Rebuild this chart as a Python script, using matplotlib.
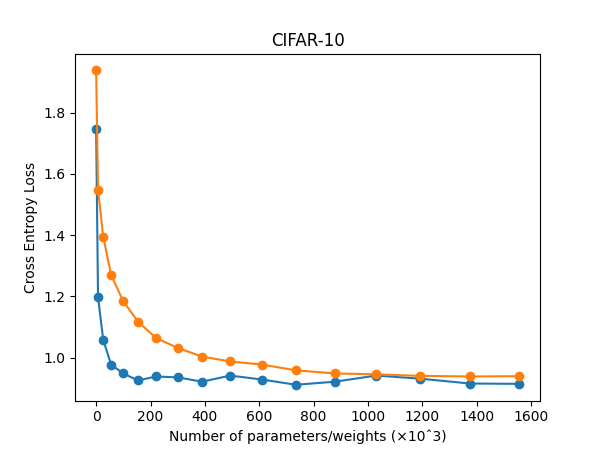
import matplotlib
matplotlib.use("Agg")
import matplotlib.pyplot as plt

params = [0, 7, 26, 55, 99, 154, 220, 301, 390, 493, 610, 735, 879, 1029, 1191, 1375, 1555]
train_loss = [1.747, 1.197, 1.058, 0.977, 0.948, 0.925, 0.938, 0.935, 0.921, 0.941, 0.928, 0.911, 0.921, 0.941, 0.931, 0.915, 0.914]
test_loss = [1.940, 1.548, 1.395, 1.270, 1.185, 1.117, 1.064, 1.031, 1.003, 0.987, 0.977, 0.958, 0.948, 0.945, 0.940, 0.938, 0.939]

fig, ax = plt.subplots(figsize=(6, 4.5), dpi=100)
ax.plot(params, train_loss, marker='o')
ax.plot(params, test_loss, marker='o')
ax.set_title("CIFAR-10")
ax.set_xlabel("Number of parameters/weights (×10ˆ3)")
ax.set_ylabel("Cross Entropy Loss")
fig.savefig("out.png")
